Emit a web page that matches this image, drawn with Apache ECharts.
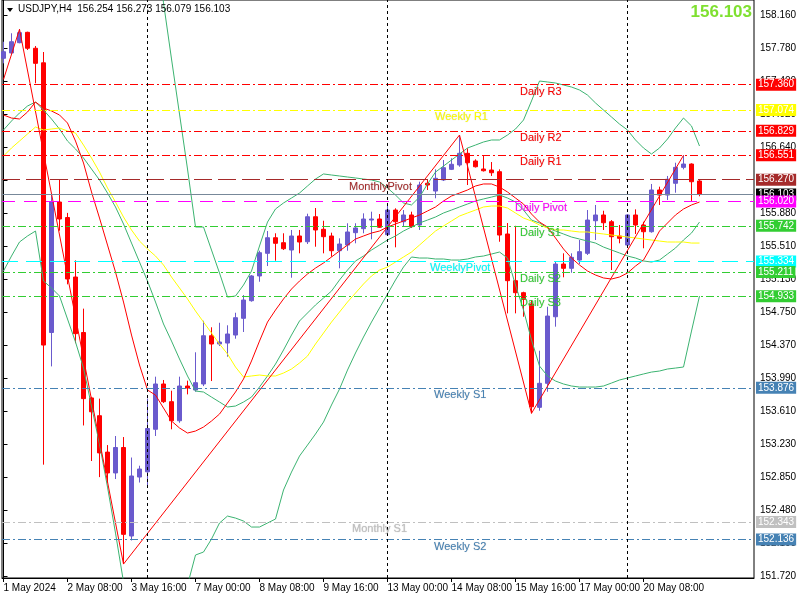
<!DOCTYPE html>
<html><head><meta charset="utf-8">
<script src="https://cdn.jsdelivr.net/npm/echarts@6/dist/echarts.min.js"></script>
<style>html,body{margin:0;padding:0;background:#fff}#c{width:800px;height:600px}</style>
</head><body><div id="c"></div>
<script>
// ---------- DATA ----------
const symbolName = 'USDJPY,H4';
const opens = [157.663,157.724,157.842,157.961,157.778,157.611,154.515,156.013,155.835,155.152,
154.515,153.764,153.560,153.142,152.903,153.195,152.179,152.856,152.916,153.404,
153.924,153.721,153.502,153.901,153.855,153.924,154.478,154.383,154.394,154.486,
154.678,154.880,155.164,155.424,155.603,155.546,155.462,155.623,155.557,155.844,
155.700,155.623,155.454,155.519,155.661,155.707,155.806,155.818,155.638,155.921,
155.787,155.864,155.749,156.228,156.139,156.266,156.388,156.438,156.572,156.484,
156.392,156.380,156.361,155.646,155.110,154.972,154.842,153.656,153.932,154.696,
155.301,155.252,155.347,155.424,155.798,155.864,155.787,155.623,155.519,155.864,
155.749,155.672,156.151,156.093,156.228,156.411,156.449,156.254];
const highs = [157.853,157.950,157.996,157.968,157.804,157.735,156.093,156.270,155.888,155.343,
154.789,153.777,153.756,153.223,153.327,153.315,153.080,152.986,153.757,154.008,
153.970,153.847,154.008,153.962,154.288,154.650,154.575,154.627,154.598,154.742,
154.945,155.175,155.454,155.680,155.654,155.654,155.692,155.692,155.879,155.944,
155.798,155.661,155.596,155.769,155.769,155.883,155.902,155.875,155.990,155.941,
155.921,155.902,156.246,156.266,156.388,156.495,156.515,156.782,156.630,156.503,
156.541,156.472,156.388,155.772,155.740,154.983,154.888,154.306,154.811,155.328,
155.424,155.424,155.577,155.921,155.979,155.913,155.806,155.749,155.875,155.929,
155.787,156.220,156.189,156.312,156.464,156.549,156.457,156.273];
const lows = [157.605,157.712,157.835,157.758,157.376,152.998,154.126,155.684,155.068,154.392,
153.448,153.040,152.855,152.793,152.833,151.857,152.128,152.793,152.744,153.327,
153.706,153.404,153.479,153.805,153.835,153.900,153.958,154.360,154.237,154.444,
154.521,154.869,155.098,155.278,155.339,155.462,155.144,155.424,155.531,155.500,
155.424,155.385,155.252,155.454,155.539,155.654,155.585,155.715,155.631,155.493,
155.730,155.715,155.692,156.151,156.056,156.254,156.380,156.418,156.208,156.409,
156.363,156.312,155.557,154.735,154.735,154.696,153.587,153.617,153.835,154.582,
155.149,155.201,155.301,155.405,155.577,155.692,155.232,155.539,155.508,155.646,
155.482,155.661,155.979,156.036,156.120,156.388,156.025,156.079];
const closes = [157.738,157.853,157.957,157.778,157.605,154.371,156.013,155.818,155.129,154.502,
153.756,153.605,153.133,152.903,153.195,152.198,152.868,152.948,153.413,153.924,
153.721,153.502,153.901,153.878,153.939,154.478,154.383,154.406,154.498,154.685,
154.888,155.164,155.431,155.603,155.539,155.477,155.623,155.554,155.844,155.692,
155.615,155.454,155.531,155.669,155.715,155.818,155.818,155.723,155.921,155.787,
155.864,155.730,156.208,156.208,156.285,156.407,156.446,156.572,156.464,156.418,
156.372,156.349,155.634,155.110,154.972,154.896,153.663,153.932,154.704,155.301,
155.252,155.378,155.443,155.806,155.864,155.775,155.615,155.596,155.864,155.749,
155.672,156.151,156.093,156.274,156.411,156.449,156.246,156.103];

const bbUpper = [158.458,158.493,158.516,158.608,158.642,159.032,158.906,158.768,158.757,158.837,
158.929,159.113,159.296,159.491,159.698,159.870,159.870,159.778,159.572,159.021,
158.300,157.655,157.023,156.392,155.726,155.726,155.462,155.198,154.922,154.934,
155.060,155.221,155.508,155.783,155.933,156.002,156.059,156.116,156.197,156.277,
156.335,156.323,156.312,156.300,156.289,156.277,156.266,156.243,156.174,156.093,
156.002,155.979,156.070,156.220,156.357,156.426,156.495,156.564,156.633,156.667,
156.702,156.725,156.725,156.782,156.851,156.954,157.173,157.402,157.391,157.379,
157.356,157.333,157.299,157.241,157.150,157.069,156.989,156.908,156.840,156.725,
156.633,156.564,156.633,156.736,156.863,156.977,156.886,156.656];
const bbMiddle = [156.840,156.943,157.035,157.115,157.161,157.069,156.966,156.851,156.713,156.622,
156.518,156.392,156.266,156.116,155.956,155.761,155.542,155.324,155.106,154.865,
154.613,154.417,154.211,154.016,153.843,153.832,153.774,153.717,153.660,153.671,
153.717,153.774,153.889,154.016,154.153,154.314,154.486,154.647,154.739,154.831,
154.911,154.991,155.118,155.232,155.336,155.393,155.462,155.519,155.577,155.623,
155.680,155.726,155.772,155.806,155.841,155.887,155.921,155.956,155.990,156.025,
156.048,156.070,156.093,156.059,156.013,155.921,155.806,155.772,155.715,155.680,
155.646,155.611,155.588,155.565,155.542,155.496,155.462,155.428,155.393,155.370,
155.336,155.324,155.347,155.416,155.485,155.577,155.657,155.783];
const bbLower = [155.221,155.393,155.554,155.623,155.680,155.106,155.026,154.934,154.670,154.406,
154.107,153.671,153.235,152.741,152.213,151.651,151.214,150.870,150.640,150.526,
150.583,150.813,151.214,151.616,151.961,151.995,152.144,152.328,152.408,152.385,
152.351,152.282,152.282,152.328,152.374,152.707,152.913,153.097,153.223,153.350,
153.487,153.683,153.866,154.084,154.280,154.463,154.635,154.796,154.957,155.118,
155.267,155.382,155.370,155.370,155.359,155.359,155.347,155.347,155.359,155.382,
155.393,155.416,155.439,155.370,155.060,154.773,154.429,154.130,154.016,153.958,
153.924,153.901,153.889,153.889,153.889,153.901,153.935,153.970,153.993,154.016,
154.039,154.061,154.073,154.096,154.107,154.119,154.532,154.934];
const maRed = [157.012,156.977,156.966,157.046,157.161,157.092,157.058,157.012,156.920,156.713,
156.461,156.128,155.829,155.519,155.209,154.865,154.486,154.142,153.855,153.797,
153.648,153.499,153.419,153.361,153.384,153.430,153.499,153.579,153.706,153.832,
153.981,154.188,154.417,154.635,154.773,154.900,155.014,155.106,155.187,155.255,
155.313,155.382,155.451,155.519,155.588,155.623,155.657,155.680,155.726,155.761,
155.795,155.829,155.864,155.910,155.956,156.025,156.082,156.116,156.151,156.197,
156.220,156.220,156.185,156.128,156.059,155.990,155.875,155.783,155.726,155.600,
155.474,155.370,155.290,155.221,155.175,155.141,155.129,155.152,155.198,155.278,
155.347,155.508,155.680,155.772,155.864,155.933,155.979,156.013];
const maYellow = [156.541,156.633,156.713,156.794,156.874,156.840,156.851,156.863,156.828,156.805,
156.667,156.518,156.357,156.174,156.013,155.841,155.692,155.565,155.474,155.393,
155.290,155.152,155.026,154.900,154.762,154.635,154.509,154.383,154.268,154.119,
154.004,154.016,154.027,154.016,154.016,154.050,154.096,154.165,154.245,154.383,
154.509,154.635,154.750,154.865,154.968,155.072,155.164,155.232,155.267,155.324,
155.382,155.439,155.519,155.600,155.680,155.738,155.795,155.852,155.887,155.921,
155.956,155.967,155.967,155.944,155.887,155.829,155.795,155.749,155.715,155.692,
155.692,155.680,155.669,155.669,155.657,155.646,155.634,155.623,155.611,155.600,
155.588,155.577,155.565,155.554,155.554,155.554,155.542,155.542];
const zigzagBars = [0,2,15,57,66,85];
const zigzagPrices = [157.420,157.996,151.857,156.782,153.587,156.549];

const timeTickBars = [0,8,16,24,32,40,48,56,64,72,80];
const timeTickLabels = ['1 May 2024','2 May 08:00','3 May 16:00','7 May 00:00','8 May 08:00','9 May 16:00','13 May 00:00','14 May 08:00','15 May 16:00','17 May 00:00','20 May 08:00'];
const priceTicks = [151.720,152.100,152.480,152.850,153.230,153.610,153.990,154.370,154.750,155.130,155.510,155.880,156.260,156.640,157.020,157.400,157.780,158.160];
const separatorBars = [18,48,78];

const levelNames  = ['Daily R3','Weekly R1','Daily R2','Daily R1','MonthlyPivot','','Daily Pivot','Daily S1','WeeklyPivot','Daily S2','Daily S3','Weekly S1','Monthly S1','Weekly S2'];
const levelValues = [157.360,157.074,156.829,156.551,156.270,156.103,156.020,155.742,155.334,155.211,154.933,153.876,152.343,152.136];

// ---------- STYLE / LAYOUT ----------
const FONT = 'Liberation Sans';
const DD = [8,3,2,3];
const levelStyles = [
  {c:'#FF0000', t:DD, box:'#FF0000', tx:520},
  {c:'#FFFF00', t:DD, box:'#FFFF00', tx:435},
  {c:'#FF0000', t:DD, box:'#FF0000', tx:520},
  {c:'#FF0000', t:DD, box:'#FF0000', tx:520},
  {c:'#A52A2A', t:[18,6], box:'#A52A2A', tx:349},
  {c:'#778899', t:'solid', box:'#000000', tx:null},
  {c:'#FF00FF', t:[13,9], box:'#FF00FF', tx:515},
  {c:'#32CD32', t:DD, box:'#32CD32', tx:520},
  {c:'#00FFFF', t:[16,8], box:'#00FFFF', tx:430},
  {c:'#32CD32', t:DD, box:'#32CD32', tx:520},
  {c:'#32CD32', t:DD, box:'#32CD32', tx:520},
  {c:'#4682B4', t:DD, box:'#4682B4', tx:434},
  {c:'#C0C0C0', t:DD, box:'#C0C0C0', tx:352},
  {c:'#4682B4', t:DD, box:'#4682B4', tx:434}
];

const pair = arr => arr.map((v,i)=>[i,v]);
const candleData = opens.map((o,i)=>[i,o,closes[i],lows[i],highs[i]]);
const last = closes.length-1;

const chart = echarts.init(document.getElementById('c'));

const lineS = (name, data, color) => ({
  name, type:'line', data, showSymbol:false, symbol:'none', smooth:false, z:4,
  lineStyle:{color, width:1}, silent:true, clip:true
});

chart.setOption({
  animation:false,
  backgroundColor:'#ffffff',
  textStyle:{fontFamily:FONT},
  grid:{left:2, right:46, top:0, bottom:22, show:true, borderColor:'#000', borderWidth:1, backgroundColor:'#fff'},
  xAxis:{
    type:'value', min:-0.1875, max:93.8125, z:0,
    axisLine:{show:true, lineStyle:{color:'#000'}},
    axisTick:{show:true, customValues:timeTickBars, length:4, lineStyle:{color:'#000'}},
    axisLabel:{customValues:timeTickBars, align:'left', margin:5, color:'#000', fontSize:10, fontFamily:FONT,
      formatter:v=>{const k=timeTickBars.indexOf(Math.round(v)); return k>=0?timeTickLabels[k]:'';}},
    splitLine:{show:false}
  },
  yAxis:{
    type:'value', position:'right', min:151.697, max:158.332, scale:true, z:0,
    axisLine:{show:true, lineStyle:{color:'#000'}},
    axisTick:{show:true, customValues:priceTicks, length:4, lineStyle:{color:'#000'}},
    axisLabel:{customValues:priceTicks, margin:6, color:'#000', fontSize:10, fontFamily:FONT, formatter:v=>v.toFixed(3)},
    splitLine:{show:false}
  },
  series:[
    {
      name:'levels', type:'line', data:[], z:1, silent:true,
      markLine:{
        symbol:['none','none'], silent:true, animation:false,
        data: levelValues.map((v,k)=>({
          yAxis:v,
          lineStyle:{color:levelStyles[k].c, type:levelStyles[k].t, width:1},
          label:{show:false}
        })).concat(separatorBars.map(b=>({
          xAxis:b, lineStyle:{color:'#000', type:[3,3], width:1}, label:{show:false}
        })))
      }
    },
    {
      name:'level boxes', type:'line', data:[], z:30, silent:true,
      markLine:{
        symbol:['none','none'], silent:true, animation:false,
        data: levelValues.map((v,k)=>({
          yAxis:v,
          lineStyle:{color:'rgba(255,255,255,0)', width:1},
          label:{show:true, position:'end', distance:2, formatter:v.toFixed(3),
            backgroundColor:levelStyles[k].box, color:'#fff', fontSize:10, fontFamily:FONT,
            padding:[1,2,0,2], lineHeight:11, opacity:1}
        }))
      }
    },
    {
      name:symbolName, type:'candlestick', data:candleData, z:3, barWidth:5,
      encode:{x:0, y:[1,2,3,4]},
      itemStyle:{color:'#6A5ACD', color0:'#FF0000', borderColor:'#6A5ACD', borderColor0:'#FF0000', borderWidth:1},
      silent:true
    },
    lineS('BB upper', pair(bbUpper), '#3CB371'),
    lineS('BB middle', pair(bbMiddle), '#3CB371'),
    lineS('BB lower', pair(bbLower), '#3CB371'),
    lineS('MA yellow', pair(maYellow), '#FFFF00'),
    lineS('MA red', pair(maRed), '#FF0000'),
    lineS('ZigZag', zigzagBars.map((b,k)=>[b,zigzagPrices[k]]), '#FF0000')
  ]
});

// header + pivot texts
const graphics = [
  {type:'polygon', shape:{points:[[7,8],[13,8],[10,12]]}, style:{fill:'#000'}, z:100},
  {type:'text', left:18, top:4, z:100, style:{
    text: symbolName + '  ' + [opens[last],highs[last],lows[last],closes[last]].map(v=>v.toFixed(3)).join(' '),
    font:'10px "Liberation Sans"', fill:'#000'}},
  {type:'text', right:48, top:4, z:100, style:{
    text: closes[last].toFixed(3), font:'bold 17px "Liberation Sans"', fill:'#7FE030'}}
];
levelNames.forEach((n,k)=>{
  if(!n) return;
  const y = chart.convertToPixel({yAxisIndex:0}, levelValues[k]);
  graphics.push({type:'text', x:levelStyles[k].tx, y:y+7, z:50, style:{
    text:n, font:'11px "Liberation Sans"', fill:levelStyles[k].c, textVerticalAlign:'middle', verticalAlign:'middle',
    textShadowColor:'rgba(0,0,0,0.25)', textShadowBlur:1}});
});
chart.setOption({graphic:graphics});
</script>
</body></html>
